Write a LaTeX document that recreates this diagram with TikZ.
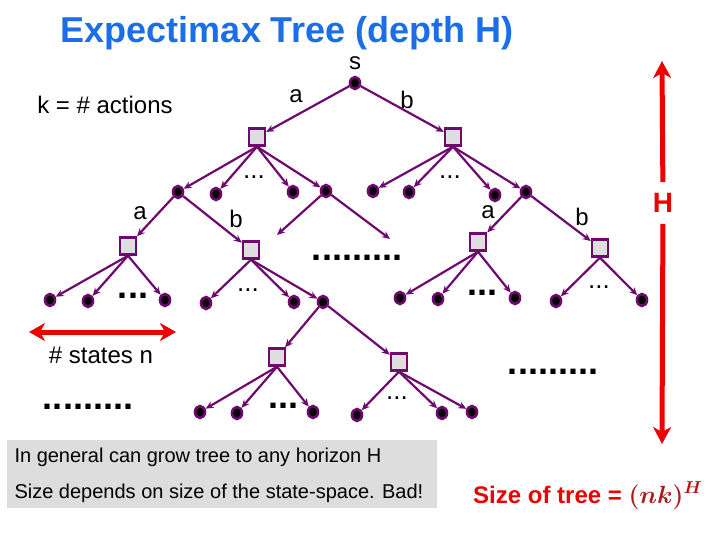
\documentclass[tikz,border=0pt]{standalone}
\usepackage{fontspec}
\setmainfont{Liberation Sans}
\usepackage{amsmath}
\usetikzlibrary{shapes.geometric, arrows.meta}

\definecolor{treepurple}{RGB}{110,10,110}
\definecolor{titleblue}{RGB}{28,110,232}
\definecolor{hred}{RGB}{236,0,0}
\definecolor{mathred}{RGB}{175,25,25}
\definecolor{boxgray}{RGB}{221,221,221}
\definecolor{chancegray}{RGB}{222,222,222}

\tikzset{
  state/.style={ellipse, draw=treepurple, fill=black, line width=2.6pt, minimum width=10pt, minimum height=12pt, inner sep=0pt},
  chance/.style={rectangle, draw=treepurple, fill=chancegray, line width=2.4pt, minimum width=16pt, minimum height=17pt, inner sep=0pt},
  edge/.style={draw=treepurple, line width=2.2pt, -{Stealth[length=8pt,width=7pt]}},
  lbl/.style={font=\fontsize{24}{28}\selectfont, inner sep=0pt},
  smalldots/.style={font=\fontsize{26}{28}\selectfont, inner sep=0pt},
  bigdots/.style={font=\fontsize{36}{40}\selectfont\bfseries, inner sep=0pt},
  redarrow/.style={draw=hred, line width=5pt, -{Stealth[length=17pt,width=18pt,inset=5pt]}},
}

\begin{document}
\begin{tikzpicture}[x=1pt, y=-1pt]
    \useasboundingbox (0,0) rectangle (720,540);

    % Title
    \node[font=\fontsize{36}{40}\selectfont\bfseries, text=titleblue, inner sep=0pt] (title) at (287,33) {Expectimax Tree (depth H)};
    \node[lbl] (kactions) at (105,105) {k = \# actions};

    % Root and first actions
    \node[lbl] (slabel) at (355,63) {s};
    \node[state] (root) at (355,83) {};
    \node[chance] (qa) at (257,137) {};
    \node[chance] (qb) at (453,137) {};
    \draw[edge] (root) -- (qa);
    \draw[edge] (root) -- (qb);
    \node[lbl] (la) at (296,96) {a};
    \node[lbl] (lb) at (407,100) {b};

    % Second level states
    \node[state] (c1) at (178,192) {};
    \node[state] (c2) at (216,194) {};
    \node[state] (c3) at (293,192) {};
    \node[state] (c4) at (326,191) {};
    \node[state] (c5) at (373,191) {};
    \node[state] (c6) at (409,192) {};
    \node[state] (c7) at (495,195) {};
    \node[state] (c8) at (526,192) {};
    \foreach \t in {c1,c2,c3,c4} \draw[edge] (qa.south) -- (\t);
    \foreach \t in {c5,c6,c7,c8} \draw[edge] (qb.south) -- (\t);
    \node[smalldots] (dotsa) at (254,177) {...};
    \node[smalldots] (dotsb) at (450,177) {...};

    % Actions below c1 and c8
    \node[chance] (q1) at (128,246) {};
    \node[chance] (q2) at (251,250) {};
    \node[chance] (q3) at (478,242) {};
    \node[chance] (q4) at (600,248) {};
    \draw[edge] (c1) -- (q1);
    \draw[edge] (c1) -- (q2);
    \draw[edge] (c8) -- (q3);
    \draw[edge] (c8) -- (q4);
    \node[lbl] (l1a) at (140,213) {a};
    \node[lbl] (l1b) at (236,219) {b};
    \node[lbl] (l8a) at (488,212) {a};
    \node[lbl] (l8b) at (582,217) {b};

    % Open branches below c4
    \coordinate (open1) at (277,235);
    \coordinate (open2) at (390,239);
    \draw[edge] (c4) -- (open1);
    \draw[edge] (c4) -- (open2);
    \node[bigdots] (midrow) at (357,258) {.........};

    % Third level states
    \node[state] (d1) at (50,300) {};
    \node[state] (d2) at (88,301) {};
    \node[state] (d3) at (165,300) {};
    \node[state] (d4) at (206,303) {};
    \node[state] (d5) at (294,302) {};
    \node[state] (d6) at (323,302) {};
    \node[state] (d7) at (400,298) {};
    \node[state] (d8) at (438,299) {};
    \node[state] (d9) at (515,298) {};
    \node[state] (d10) at (556,301) {};
    \node[state] (d11) at (642,300) {};
    \foreach \t in {d1,d2,d3} \draw[edge] (q1.south) -- (\t);
    \foreach \t in {d4,d5,d6} \draw[edge] (q2.south) -- (\t);
    \foreach \t in {d7,d8,d9} \draw[edge] (q3.south) -- (\t);
    \foreach \t in {d10,d11} \draw[edge] (q4.south) -- (\t);
    \node[bigdots] (dots1) at (133,296) {...};
    \node[smalldots] (dots2) at (248,290) {...};
    \node[bigdots] (dots3) at (482,293) {...};
    \node[smalldots] (dots4) at (599,287) {...};

    % Subtree below d6
    \node[chance] (r1) at (277,357) {};
    \node[chance] (r2) at (399,362) {};
    \draw[edge] (d6) -- (r1);
    \draw[edge] (d6) -- (r2);
    \node[state] (f1) at (200,412) {};
    \node[state] (f2) at (237,413) {};
    \node[state] (f3) at (313,412) {};
    \node[state] (f4) at (357,415) {};
    \node[state] (f5) at (442,413) {};
    \node[state] (f6) at (472,412) {};
    \foreach \t in {f1,f2,f3} \draw[edge] (r1.south) -- (\t);
    \foreach \t in {f4,f5,f6} \draw[edge] (r2.south) -- (\t);
    \node[bigdots] (dots5) at (283,406) {...};
    \node[smalldots] (dots6) at (397,398) {...};
    \node[bigdots] (lowleft) at (88,407) {.........};
    \node[bigdots] (lowright) at (553,372) {.........};

    % Number of states
    \coordinate (nleft) at (29,332);
    \coordinate (nright) at (176,332);
    \draw[redarrow, {Stealth[length=16pt,width=18pt,inset=5pt]}-{Stealth[length=16pt,width=18pt,inset=5pt]}] (nleft) -- (nright);
    \node[lbl] (nstates) at (101,355) {\# states n};

    % Depth H
    \node[font=\fontsize{28}{30}\selectfont\bfseries, text=hred, inner xsep=0pt, inner ysep=11pt] (depth) at (663,203) {H};
    \coordinate (htop) at (662,61);
    \coordinate (hbottom) at (662,444);
    \draw[redarrow] (depth) -- (htop);
    \draw[redarrow] (depth) -- (hbottom);

    % Notes
    \fill[boxgray] (7,440) rectangle (437,508);
    \node[font=\fontsize{20}{24}\selectfont, anchor=west] (note1) at (11,457) {In general can grow tree to any horizon H};
    \node[font=\fontsize{20}{24}\selectfont, anchor=west] (note2) at (11,493) {Size depends on size of the state-space. Bad!};
    \node[font=\fontsize{24}{28}\selectfont, anchor=base west, inner sep=0pt] (size) at (473,503) {\textcolor{hred}{\textbf{Size of tree =}} \textcolor{mathred}{\boldmath$(nk)^H$}};
\end{tikzpicture}
\end{document}
